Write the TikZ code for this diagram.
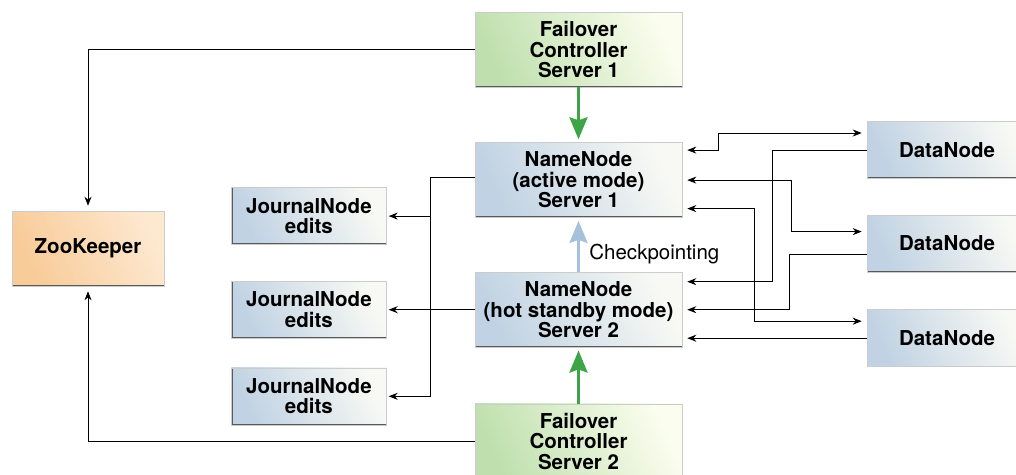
\documentclass[tikz,border=0pt]{standalone}
\usepackage{fontspec}
\setmainfont{TeX Gyre Heros}
\usetikzlibrary{positioning, arrows.meta}

\definecolor{nnblue}{HTML}{C0D2E3}
\definecolor{nnwhite}{HTML}{F8F9F4}
\definecolor{fcgreen}{HTML}{BFE0AE}
\definecolor{fcwhite}{HTML}{FBFDEE}
\definecolor{zkorange}{HTML}{F8CB98}
\definecolor{zkwhite}{HTML}{FDE8D0}
\definecolor{ctlgreen}{HTML}{3DA548}
\definecolor{ckblue}{HTML}{A8C1DB}

\begin{document}
\begin{tikzpicture}[x=1pt, y=1pt, node distance=55pt, line width=0.8pt,
		>={Stealth[length=9pt, width=7pt]},
		box/.style={rectangle, draw=black!20, line width=0.6pt, align=center, inner sep=2pt,
			font=\bfseries\fontsize{20.5}{20.5}\selectfont,
			path picture={\draw[line width=2.4pt, black!65] (path picture bounding box.north west)
				-- (path picture bounding box.south west) -- (path picture bounding box.south east);}},
		blue/.style={left color=nnblue, right color=nnwhite, shading angle=115},
		srv/.style={box, minimum width=207pt, minimum height=75pt},
		fc/.style={srv, left color=fcgreen, right color=fcwhite, shading angle=115},
		nn/.style={srv, blue},
		zk/.style={box, minimum width=152pt, minimum height=75pt, left color=zkorange, right color=zkwhite, shading angle=115},
		jn/.style={box, blue, minimum width=155pt, minimum height=57pt},
		dn/.style={box, blue, minimum width=160pt, minimum height=57pt},
		ctl/.style={color=ctlgreen, line width=3pt, -{Stealth[length=22pt, width=18pt, inset=3pt]}, shorten >=3pt},
		ck/.style={color=ckblue, line width=3pt, -{Stealth[length=22pt, width=18pt, inset=3pt]}, shorten >=3pt}]
		\useasboundingbox (0,0) rectangle (1016,-474);

		\node[fc] (fc1) at (578.5,-49.5) {Failover\\Controller\\Server 1};
		\node[nn, below=of fc1] (nn1) {NameNode\\(active mode)\\Server 1};
		\node[nn, below=54pt of nn1] (nn2) {NameNode\\(hot standby mode)\\Server 2};
		\node[fc, below=56pt of nn2] (fc2) {Failover\\Controller\\Server 2};

		\node[zk] (zk) at (88,-248.5) {ZooKeeper};

		\node[jn, left=88pt of nn2] (jn2) {JournalNode\\edits};
		\node[jn, above=36pt of jn2] (jn1) {JournalNode\\edits};
		\node[jn, below=29pt of jn2] (jn3) {JournalNode\\edits};

		\node[dn] (dn1) at (947,-150) {DataNode};
		\node[dn, below=36pt of dn1] (dn2) {DataNode};
		\node[dn, below=37pt of dn2] (dn3) {DataNode};

		% failover controllers
		\path[ctl] (fc1) edge (nn1);
		\path[ctl] (fc2) edge (nn2);
		\path[ck] (nn2) edge node[right, pos=0.33, xshift=6pt, text=black,
			font=\fontsize{20.5}{20.5}\selectfont] {Checkpointing} (nn1);

		% zookeeper
		\draw[->, shorten >=5pt] (fc1.west) -| (zk.north);
		\draw[->, shorten >=5pt] (fc2.west) -| (zk.south);

		% journal nodes
		\coordinate (bus) at ([xshift=44pt]jn2.east);
		\draw[->, shorten >=2pt] ([yshift=2.5pt]nn1.west) -| (bus |- jn3.east) -- (jn3.east);
		\draw[->, shorten >=2pt, line width=1.2pt] (bus |- jn1.east) -- (jn1.east);
		\draw[->, shorten >=2pt, line width=1.2pt] (nn2.west) -- (jn2.east);

		% data nodes
		\draw[<->, shorten <=5pt, shorten >=5pt] ([yshift=30pt]nn1.east) -- ++(36pt,0) |- ([yshift=17pt]dn1.west);
		\draw[<->, shorten <=5pt, shorten >=5pt] (nn1.east) -- ++(109pt,0) |- ([yshift=12pt]dn2.west);
		\draw[<->, shorten <=5pt, shorten >=5pt] ([yshift=-28.5pt]nn1.east) -- ++(72pt,0) |- ([yshift=17pt]dn3.west);
		\draw[->, shorten >=5pt] (dn1.west) -- ++(-94pt,0) |- ([yshift=28pt]nn2.east);
		\draw[->, shorten >=5pt] ([yshift=-11pt]dn2.west) -- ++(-77pt,0) |- (nn2.east);
		\draw[->, shorten >=5pt, line width=1.2pt] (dn3.west) -- (dn3.west -| nn2.east);
	\end{tikzpicture}
\end{document}
